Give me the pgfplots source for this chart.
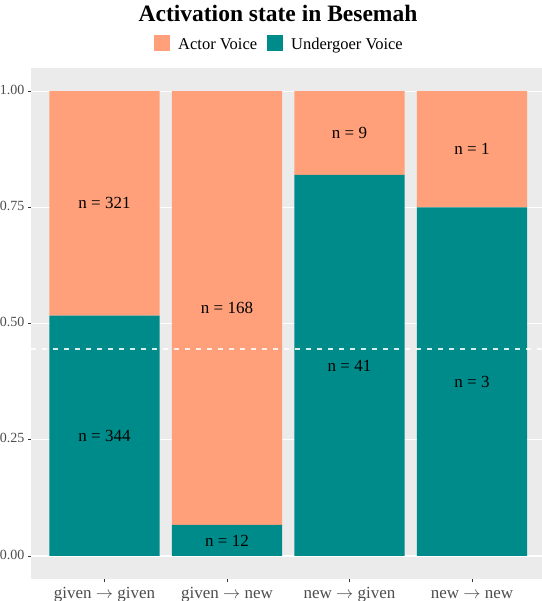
\documentclass[border=0pt]{standalone}
\usepackage{fontspec}
\setmainfont{Liberation Serif}
\usepackage{pgfplots}
\pgfplotsset{compat=1.18}
\definecolor{actor}{HTML}{FFA07A}
\definecolor{under}{HTML}{008B8B}
\definecolor{panel}{HTML}{EBEBEB}
\definecolor{ticktext}{HTML}{4D4D4D}
\definecolor{tickline}{HTML}{333333}

\begin{document}
\begin{tikzpicture}
\path[use as bounding box] (-31bp,-21.8bp) rectangle (511bp,579.2bp);
\begin{axis}[
  scale only axis, width=514.5bp, height=511.2bp,
  xmin=0.4, xmax=4.6, ymin=-0.05, ymax=1.05,
  ybar stacked, bar width=0.9,
  axis background/.style={fill=panel},
  axis line style={draw=none},
  ymajorgrids, grid style={white, line width=1.1bp},
  xtick={1,2,3,4},
  xticklabels={given $\rightarrow$ given, given $\rightarrow$ new, new $\rightarrow$ given, new $\rightarrow$ new},
  ytick={0,0.25,0.5,0.75,1},
  yticklabels={0.00,0.25,0.50,0.75,1.00},
  tick pos=left,
  tick align=outside, major tick length=3bp,
  tick style={tickline, line width=0.8bp},
  ticklabel style={ticktext},
  typeset ticklabels with strut,
  xticklabel style={font=\fontsize{17bp}{19bp}\selectfont, yshift=1bp},
  yticklabel style={font=\fontsize{14bp}{16bp}\selectfont},
  legend columns=2, reverse legend,
  legend style={at={(0.483,1.047)}, anchor=center, draw=none, fill=none,
    inner sep=0pt, font=\fontsize{16.5bp}{18bp}\selectfont,
    /tikz/every odd column/.append style={column sep=6bp},
    /tikz/every even column/.append style={column sep=8bp}},
  legend image code/.code={\fill[#1] (0bp,-6.5bp) rectangle (16bp,9.5bp);},
]
% Undergoer Voice share (bottom)
\addplot[draw=none, fill=under] coordinates {(1,0.51729) (2,0.06667) (3,0.82) (4,0.75)};
\addlegendentry{Undergoer Voice}
% Actor Voice share (top)
\addplot[draw=none, fill=actor] coordinates {(1,0.48271) (2,0.93333) (3,0.18) (4,0.25)};
\addlegendentry{Actor Voice}
\end{axis}

\begin{axis}[
  scale only axis, width=514.5bp, height=511.2bp,
  xmin=0.4, xmax=4.6, ymin=-0.05, ymax=1.05,
  hide axis,
]
% overall UV share 400/899
\addplot[white, opacity=0.85, line width=1.5bp, dash pattern=on 5bp off 6bp] coordinates {(0.4,0.4449) (4.6,0.4449)};
\addplot[only marks, mark=*, mark size=0pt,
  scatter/use mapped color={draw=none, fill=none},
  mark options={draw=none, fill=none},
  point meta=explicit symbolic,
  nodes near coords={n = \pgfplotspointmeta},
  every node near coord/.append style={anchor=center, text=black,
    font=\fontsize{17bp}{19bp}\selectfont}]
  coordinates {
  (1,0.25865)[344] (1,0.75865)[321]
  (2,0.03333)[12] (2,0.53333)[168]
  (3,0.41)[41] (3,0.91)[9]
  (4,0.375)[3] (4,0.875)[1]
};
\end{axis}

\node[anchor=base, font=\bfseries\fontsize{23.5bp}{26bp}\selectfont] at (247bp,557.5bp) {Activation state in Besemah};
\end{tikzpicture}
\end{document}
